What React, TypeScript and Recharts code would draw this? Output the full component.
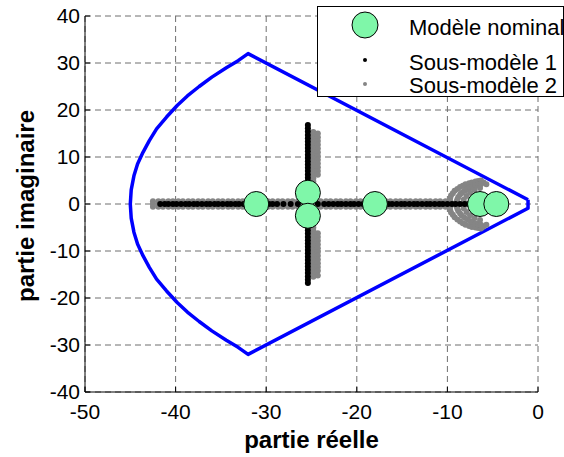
import { ScatterChart, Scatter, XAxis, YAxis, CartesianGrid, Legend, Label } from 'recharts'

// axes
const X_TICKS = [-50, -40, -30, -20, -10, 0]
const Y_TICKS = [-40, -30, -20, -10, 0, 10, 20, 30, 40]

// region boundary (blue)
const boundaryX = [
  -1.1, -32, -33.1, -34.4, -36.0, -37.4, -38.7, -39.8, -41.0, -42.1, -42.9, -43.6, -44.2, -44.6, -44.9, -45,
  -44.9, -44.6, -44.2, -43.6, -42.9, -42.1, -41.0, -39.8, -38.7, -37.4, -36.0, -34.4, -33.1, -32, -1.1, -1.1,
]
const boundaryY = [
  0.9, 32, 30.5, 29, 27, 25, 23, 21, 18.5, 16, 13.5, 11, 8.5, 6, 3, 0,
  -3, -6, -8.5, -11, -13.5, -16, -18.5, -21, -23, -25, -27, -29, -30.5, -32, -0.9, 0.9,
]

// nominal model poles
const nominalX = [-31.1, -25.4, -25.4, -18.0, -6.4, -4.6]
const nominalY = [0, 2.4, -2.5, 0, 0, 0]

// sous-modele 1 : real poles + complex branch at -25.4
const sub1RealX = [
  -41.7, -41.2, -40.8, -40.3, -39.9, -39.4, -38.9, -38.5, -38.0, -37.6, -37.1, -36.6, -36.2, -35.7,
  -35.3, -34.8, -34.3, -33.9, -33.4, -33.0, -32.5, -32.0, -31.6, -31.1, -30.7, -30.2, -29.7, -29.3,
  -28.8, -28.1, -27.3, -26.5, -24.3, -23.6, -23.1, -22.6, -22.1, -21.7, -21.2, -20.7, -20.3, -19.8,
  -19.3, -18.9, -18.4, -17.9, -17.5, -17.0, -16.5, -16.1, -15.6, -15.1, -14.7, -14.2, -13.7, -13.3,
  -12.8, -12.3, -11.9, -11.4, -10.9, -10.5, -10.0, -9.5, -9.1, -8.6, -8.1, -7.7,
]
const sub1BranchX = -25.4
const sub1BranchY = [
  16.8, 16.1, 15.4, 14.7, 14.0, 13.3, 12.6, 11.9, 11.2, 10.5, 9.8, 9.1, 8.4, 7.7, 7.0, 6.3, 5.6, 4.9,
  4.2, 3.5, 2.8, 2.1, 1.4, 0.7, 0, -0.7, -1.4, -2.1, -2.8, -3.5, -4.2, -4.9, -5.6, -6.3, -7.0, -7.7,
  -8.4, -9.1, -9.8, -10.5, -11.2, -11.9, -12.6, -13.3, -14.0, -14.7, -15.4, -16.1, -16.8,
]

// sous-modele 2
const sub2RealX = [
  -42.5, -41.9, -41.4, -40.8, -40.3, -39.7, -39.2, -38.6, -38.1, -37.5, -37.0, -36.4, -35.9, -35.3,
  -34.8, -34.2, -33.7, -33.1, -32.6, -32.0, -31.5, -30.9, -30.4, -29.8, -29.3, -28.7, -28.2, -27.6,
  -27.1, -26.5, -26.0, -24.0, -23.4, -22.9, -22.3, -21.8, -21.2, -20.7, -20.1, -19.6, -19.0, -18.5,
  -17.9, -17.4, -16.8, -16.3, -15.7, -15.2, -14.6, -14.1, -13.5, -13.0, -12.4, -11.9, -11.3, -10.8,
  -10.2, -9.7,
]
const sub2RealRowsY = [-0.6, 0, 0.6]
const sub2BranchX = -24.8
const sub2BranchY = [
  15.3, 14.6, 13.9, 13.2, 12.5, 11.8, 11.1, 10.4, 9.7, 9.0, 8.3, 7.6, 6.9, 6.2, 5.5, 4.8, 4.1, 3.4,
  2.7, 2.0, 1.3, 0.6, -0.1, -0.8, -1.5, -2.2, -2.9, -3.6, -4.3, -5.0, -5.7, -6.4, -7.1, -7.8, -8.5,
  -9.2, -9.9, -10.6, -11.3, -12.0, -12.7, -13.4, -14.1, -14.8, -15.5,
]
const sub2BranchOuterX = -24.3
const sub2BranchOuterY = [
  15.0, 14.2, 13.4, 12.6, 11.8, 11.0, 10.2, 9.4, 8.6, 7.8, 7.0, 6.2,
  -6.2, -7.0, -7.8, -8.6, -9.4, -10.2, -11.0, -11.8, -12.6, -13.4, -14.2, -15.2,
]
const sub2Arc: [number, number][] = [
  [-9.8, 0], [-9.8, 0.6], [-9.7, 1.2], [-9.6, 1.8], [-9.4, 2.3], [-9.2, 2.8], [-8.9, 3.2], [-8.6, 3.6],
  [-8.3, 3.9], [-8.0, 4.2], [-7.6, 4.4], [-7.3, 4.6], [-6.9, 4.8], [-6.6, 4.9], [-6.3, 5.0],
  [-9.8, -0.6], [-9.7, -1.2], [-9.6, -1.8], [-9.4, -2.3], [-9.2, -2.8], [-8.9, -3.3], [-8.6, -3.7],
  [-8.3, -4.1], [-8.0, -4.4], [-7.6, -4.7], [-7.3, -4.9], [-6.9, -5.0], [-6.6, -5.1], [-6.3, -5.2],
  [-9.0, 0], [-9.0, 0.5], [-8.9, 1.0], [-8.8, 1.5], [-8.6, 2.0], [-8.4, 2.4], [-8.1, 2.8], [-7.8, 3.2],
  [-7.5, 3.5], [-7.2, 3.7], [-6.9, 3.9], [-6.6, 4.1], [-6.3, 4.2],
  [-9.0, -0.5], [-8.9, -1.0], [-8.8, -1.5], [-8.6, -2.0], [-8.4, -2.5], [-8.1, -2.9], [-7.8, -3.3],
  [-7.5, -3.6], [-7.2, -3.9], [-6.9, -4.1], [-6.6, -4.3], [-6.3, -4.4],
  [-8.3, 0], [-8.2, 0.9], [-7.9, 1.7], [-7.5, 2.4], [-7.0, 3.0], [-6.4, 3.4],
  [-8.2, -0.9], [-7.9, -1.7], [-7.5, -2.4], [-7.0, -3.0], [-6.4, -3.4],
  [-6.0, 4.6], [-5.7, 4.2], [-6.0, -4.8], [-5.7, -4.4],
]

const FONT = '"Liberation Sans", Arial, Helvetica, sans-serif'
const GREEN = '#7ff7a9'
const GRAY = '#858585'

const boundary = boundaryX.map((x, i) => ({ x, y: boundaryY[i] }))
const nominal = nominalX.map((x, i) => ({ x, y: nominalY[i] }))
const sub1 = [
  ...sub1RealX.map((x) => ({ x, y: 0 })),
  ...sub1BranchY.map((y) => ({ x: sub1BranchX, y })),
]
const sub2 = [
  ...sub2RealRowsY.flatMap((y) => sub2RealX.map((x) => ({ x, y }))),
  ...sub2BranchY.map((y) => ({ x: sub2BranchX, y })),
  ...sub2BranchOuterY.map((y) => ({ x: sub2BranchOuterX, y })),
  ...sub2Arc.map(([x, y]) => ({ x, y })),
]

const dot = (r: number, fill: string) => (p: any) => <circle cx={p.cx} cy={p.cy} r={r} fill={fill} />

function LegendBox() {
  return (
    <svg width={247} height={91} style={{ display: 'block' }}>
      <rect x={0.5} y={0.5} width={246} height={90} fill="#fff" stroke="#000" strokeWidth={1} />
      <circle cx={48} cy={19} r={13} fill={GREEN} stroke="#000" strokeWidth={1} />
      <circle cx={48} cy={54} r={2} fill="#000" />
      <circle cx={48} cy={78} r={2} fill={GRAY} />
      <g fontFamily={FONT} fontSize={22} fill="#000" dominantBaseline="central">
        <text x={92} y={21}>Modèle nominal</text>
        <text x={92} y={56}>Sous-modèle 1</text>
        <text x={92} y={79}>Sous-modèle 2</text>
      </g>
    </svg>
  )
}

export default function App() {
  return (
    <div style={{ position: 'absolute', left: 0, top: 0, width: 564, height: 457, background: '#fff' }}>
      <ScatterChart
        width={564}
        height={457}
        margin={{ top: 16, right: 26, bottom: 0, left: 0 }}
        style={{ fontFamily: FONT }}
      >
        <CartesianGrid stroke="#6f6f6f" strokeDasharray="6 4" />
        <XAxis
          type="number"
          dataKey="x"
          domain={[-50, 0]}
          ticks={X_TICKS}
          interval={0}
          allowDataOverflow
          height={65}
          axisLine={{ stroke: '#000' }}
          tickLine={{ stroke: '#000' }}
          tickSize={-5}
          tickMargin={17}
          tick={{ fontSize: 21, fill: '#000' }}
        >
          <Label
            content={(p: any) => {
              const vb = p.viewBox
              return (
                <text
                  x={vb.x + vb.width / 2}
                  y={vb.y + vb.height - 9}
                  textAnchor="middle"
                  fontSize={24}
                  fontWeight="bold"
                  fontFamily={FONT}
                  fill="#000"
                >
                  partie réelle
                </text>
              )
            }}
          />
        </XAxis>
        <YAxis
          type="number"
          dataKey="y"
          domain={[-40, 40]}
          ticks={Y_TICKS}
          interval={0}
          allowDataOverflow
          width={85}
          axisLine={{ stroke: '#000' }}
          tickLine={{ stroke: '#000' }}
          tickSize={-5}
          tickMargin={10}
          tick={{ fontSize: 21, fill: '#000' }}
        >
          <Label
            content={(p: any) => {
              const vb = p.viewBox
              const cx = vb.x + 25
              const cy = vb.y + vb.height / 2 + 2
              return (
                <text
                  x={cx}
                  y={cy}
                  transform={`rotate(-90 ${cx} ${cy})`}
                  textAnchor="middle"
                  dominantBaseline="central"
                  fontSize={24}
                  fontWeight="bold"
                  fontFamily={FONT}
                  fill="#000"
                >
                  partie imaginaire
                </text>
              )
            }}
          />
        </YAxis>
        <Scatter
          name="frontière"
          data={boundary}
          fill="#0000ff"
          line={{ stroke: '#0000ff', strokeWidth: 3.5, strokeLinejoin: 'round' }}
          lineType="joint"
          shape={() => <g />}
          isAnimationActive={false}
          legendType="none"
        />
        <Scatter name="Sous-modèle 2" data={sub2} fill={GRAY} shape={dot(3, GRAY)} isAnimationActive={false} />
        <Scatter name="Sous-modèle 1" data={sub1} fill="#000" shape={dot(3, '#000')} isAnimationActive={false} />
        <Scatter
          name="Modèle nominal"
          data={nominal}
          fill={GREEN}
          shape={(p: any) => <circle cx={p.cx} cy={p.cy} r={12.5} fill={GREEN} stroke="#000" strokeWidth={1} />}
          isAnimationActive={false}
        />
        <Legend
          layout="horizontal"
          verticalAlign="middle"
          align="center"
          content={() => <LegendBox />}
          wrapperStyle={{ left: 317, top: 6, width: 247, height: 91 }}
        />
      </ScatterChart>
    </div>
  )
}
